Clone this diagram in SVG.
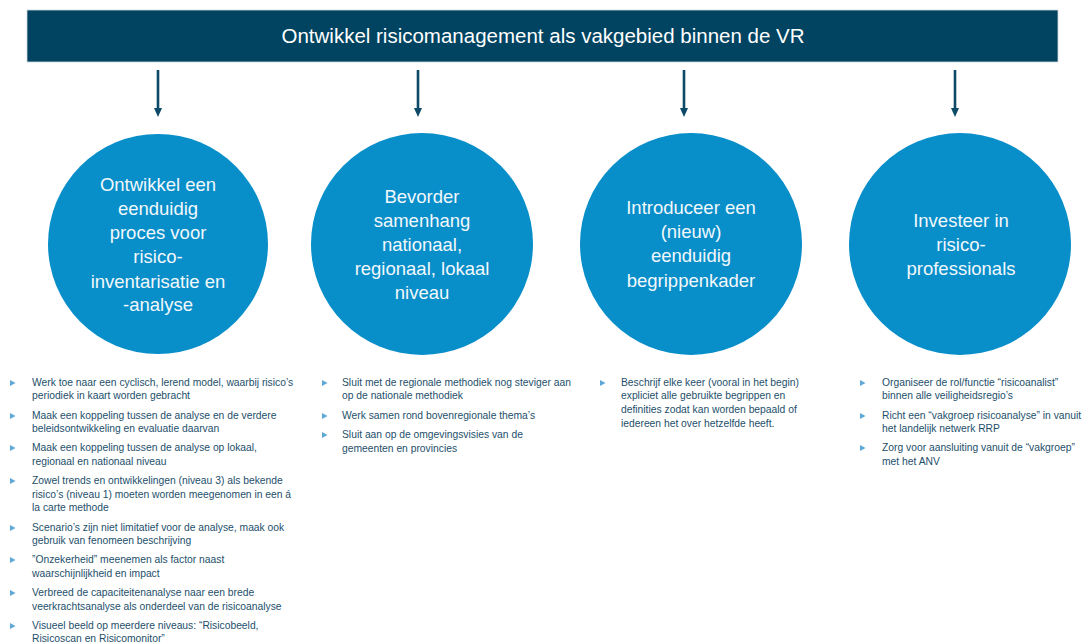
<svg xmlns="http://www.w3.org/2000/svg" width="1084" height="644" viewBox="0 0 1084 644">
<defs>
<style>
.hdr{fill:#004461}
.hdrt{font-family:"Liberation Sans",Arial,sans-serif;font-size:20.5px;fill:#ffffff;text-anchor:middle}
.circ{fill:#088ec9}
.ct{font-family:"Liberation Sans",Arial,sans-serif;font-size:18.5px;fill:#f2f8fc;text-anchor:middle}
.bt{font-family:"Liberation Sans",Arial,sans-serif;font-size:10.3px;fill:#1d4f6b}
.bul{fill:#5ea8d8}
.conn{stroke:#0d4a68;stroke-width:2.6;fill:none;marker-end:url(#ah)}
</style>
<marker id="ah" markerUnits="userSpaceOnUse" markerWidth="10" markerHeight="10" refX="0" refY="5" orient="auto" viewBox="0 0 10 10">
<path d="M0,1 L9,5 L0,9 Z" fill="#0d4a68"/>
</marker>
<path id="tri" d="M0,-3 L5.5,0 L0,3 Z"/>
</defs>
<rect width="1084" height="644" fill="#ffffff"/>

<g id="header">
<rect class="hdr" x="27" y="10" width="1031" height="52" stroke="#cfd9de" stroke-width="0.8"/>
<text class="hdrt" x="543" y="43">Ontwikkel risicomanagement als vakgebied binnen de VR</text>
</g>

<g id="connectors">
<line class="conn" x1="158" y1="70" x2="158" y2="108"/>
<line class="conn" x1="418" y1="70" x2="418" y2="108"/>
<line class="conn" x1="684" y1="70" x2="684" y2="108"/>
<line class="conn" x1="955" y1="70" x2="955" y2="108"/>
</g>

<g id="node1">
<circle class="circ" cx="158" cy="244" r="110"/>
<text class="ct" x="158" y="191">Ontwikkel een</text>
<text class="ct" x="158" y="215">eenduidig</text>
<text class="ct" x="158" y="239">proces voor</text>
<text class="ct" x="158" y="263">risico-</text>
<text class="ct" x="158" y="288">inventarisatie en</text>
<text class="ct" x="158" y="311">-analyse</text>
</g>

<g id="node2">
<circle class="circ" cx="422" cy="244" r="111"/>
<text class="ct" x="422" y="203">Bevorder</text>
<text class="ct" x="422" y="227">samenhang</text>
<text class="ct" x="422" y="251">nationaal,</text>
<text class="ct" x="422" y="275">regionaal, lokaal</text>
<text class="ct" x="422" y="299">niveau</text>
</g>

<g id="node3">
<circle class="circ" cx="691" cy="244" r="111"/>
<text class="ct" x="691" y="214">Introduceer een</text>
<text class="ct" x="691" y="238">(nieuw)</text>
<text class="ct" x="691" y="262">eenduidig</text>
<text class="ct" x="691" y="287">begrippenkader</text>
</g>

<g id="node4">
<circle class="circ" cx="960" cy="244" r="111"/>
<text class="ct" x="961" y="227">Investeer in</text>
<text class="ct" x="961" y="251">risico-</text>
<text class="ct" x="961" y="275">professionals</text>
</g>

<g id="list1">
<use href="#tri" class="bul" x="10" y="383"/>
<text class="bt" x="32" y="386">Werk toe naar een cyclisch, lerend model, waarbij risico’s</text>
<text class="bt" x="32" y="399">periodiek in kaart worden gebracht</text>
<use href="#tri" class="bul" x="10" y="416"/>
<text class="bt" x="32" y="419">Maak een koppeling tussen de analyse en de verdere</text>
<text class="bt" x="32" y="432">beleidsontwikkeling en evaluatie daarvan</text>
<use href="#tri" class="bul" x="10" y="448"/>
<text class="bt" x="32" y="451">Maak een koppeling tussen de analyse op lokaal,</text>
<text class="bt" x="32" y="465">regionaal en nationaal niveau</text>
<use href="#tri" class="bul" x="10" y="481"/>
<text class="bt" x="32" y="484">Zowel trends en ontwikkelingen (niveau 3) als bekende</text>
<text class="bt" x="32" y="498">risico’s (niveau 1) moeten worden meegenomen in een á</text>
<text class="bt" x="32" y="511">la carte methode</text>
<use href="#tri" class="bul" x="10" y="528"/>
<text class="bt" x="32" y="531">Scenario’s zijn niet limitatief voor de analyse, maak ook</text>
<text class="bt" x="32" y="544">gebruik van fenomeen beschrijving</text>
<use href="#tri" class="bul" x="10" y="560"/>
<text class="bt" x="32" y="563">”Onzekerheid” meenemen als factor naast</text>
<text class="bt" x="32" y="577">waarschijnlijkheid en impact</text>
<use href="#tri" class="bul" x="10" y="593"/>
<text class="bt" x="32" y="596">Verbreed de capaciteitenanalyse naar een brede</text>
<text class="bt" x="32" y="610">veerkrachtsanalyse als onderdeel van de risicoanalyse</text>
<use href="#tri" class="bul" x="10" y="626"/>
<text class="bt" x="32" y="629">Visueel beeld op meerdere niveaus: “Risicobeeld,</text>
<text class="bt" x="32" y="642">Risicoscan en Risicomonitor”</text>
</g>

<g id="list2">
<use href="#tri" class="bul" x="322" y="383"/>
<text class="bt" x="342" y="386">Sluit met de regionale methodiek nog steviger aan</text>
<text class="bt" x="342" y="399">op de nationale methodiek</text>
<use href="#tri" class="bul" x="322" y="416"/>
<text class="bt" x="342" y="419">Werk samen rond bovenregionale thema’s</text>
<use href="#tri" class="bul" x="322" y="435"/>
<text class="bt" x="342" y="438">Sluit aan op de omgevingsvisies van de</text>
<text class="bt" x="342" y="452">gemeenten en provincies</text>
</g>

<g id="list3">
<use href="#tri" class="bul" x="600" y="383"/>
<text class="bt" x="621" y="386">Beschrijf elke keer (vooral in het begin)</text>
<text class="bt" x="621" y="399">expliciet alle gebruikte begrippen en</text>
<text class="bt" x="621" y="413">definities zodat kan worden bepaald of</text>
<text class="bt" x="621" y="427">iedereen het over hetzelfde heeft.</text>
</g>

<g id="list4">
<use href="#tri" class="bul" x="860" y="383"/>
<text class="bt" x="882" y="386">Organiseer de rol/functie “risicoanalist”</text>
<text class="bt" x="882" y="399">binnen alle veiligheidsregio’s</text>
<use href="#tri" class="bul" x="860" y="416"/>
<text class="bt" x="882" y="419">Richt een “vakgroep risicoanalyse” in vanuit</text>
<text class="bt" x="882" y="432">het landelijk netwerk RRP</text>
<use href="#tri" class="bul" x="860" y="448"/>
<text class="bt" x="882" y="451">Zorg voor aansluiting vanuit de “vakgroep”</text>
<text class="bt" x="882" y="465">met het ANV</text>
</g>
</svg>
